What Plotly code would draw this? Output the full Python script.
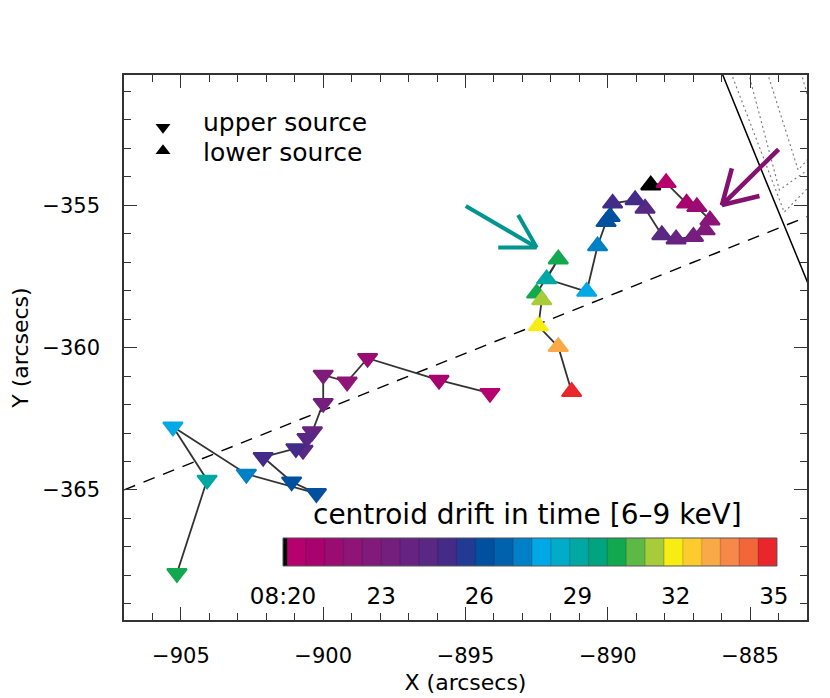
"""Centroid drift of the upper and lower sources, coloured by time."""
import plotly.graph_objects as go

# upper source (down triangles), time in minutes after 08:20
UPPER_X = [-894.14, -895.93, -898.44, -899.16, -900.00, -900.00, -900.38, -900.57,
           -900.71, -900.96, -902.11, -901.11, -900.24, -902.70, -905.28, -904.08, -905.14]
UPPER_Y = [-361.60, -361.14, -360.37, -361.20, -360.96, -361.95, -362.95, -363.18,
           -363.60, -363.54, -363.85, -364.71, -365.12, -364.44, -362.78, -364.65, -367.93]
UPPER_T = [0.4, 1.0, 1.5, 2.0, 2.6, 3.2, 3.7, 4.2, 4.5, 5.0, 5.3, 5.9, 6.3, 7.4, 7.9, 9.0, 10.1]

# lower source (up triangles)
LOWER_X = [-888.49, -887.95, -887.23, -886.87, -886.41, -886.58, -886.99, -887.60,
           -888.10, -888.69, -889.04, -889.83, -889.92, -890.06, -890.36, -890.74,
           -892.15, -891.74, -892.50, -892.32, -892.44, -891.74, -891.27]
LOWER_Y = [-354.29, -354.21, -354.93, -355.05, -355.52, -355.87, -356.10, -356.19,
           -356.04, -355.11, -354.81, -354.93, -355.40, -355.58, -356.43, -358.03,
           -357.59, -356.89, -358.09, -358.33, -359.24, -359.97, -361.55]
LOWER_T = [0.05, 0.4, 1.0, 1.5, 2.0, 2.6, 3.2, 3.7, 4.2, 4.5, 5.0, 5.3, 5.9, 6.3,
           7.4, 7.9, 9.0, 10.1, 10.4, 11.3, 11.9, 13.3, 14.8]

# dashed guide line
DASH_X = [-907.0, -883.0]
DASH_Y = [-365.0, -355.4]

# limb (solid) and contours (dotted) in the upper right corner
LIMB_X = [-886.1, -885.96, -884.65, -883.01, -882.9]
LIMB_Y = [-350.1, -350.42, -353.64, -357.62, -357.9]
CONTOURS = [
    ([-885.8, -883.80, -882.9], [-350.0, -355.24, -354.32]),
    ([-885.15, -883.97, -882.9], [-350.0, -354.46, -353.70]),
    ([-884.5, -883.31, -882.9], [-350.0, -353.76, -353.30]),
    ([-883.3, -882.9], [-350.0, -351.45]),
]

# arrows: tail, tip, barb / barb, tip
TEAL_ARROW_X = [-894.99, -892.50, -893.15, None, -893.85, -892.50]
TEAL_ARROW_Y = [-355.02, -356.48, -355.34, None, -356.48, -356.48]
PURPLE_ARROW_X = [-884.00, -885.99, -885.64, None, -884.67, -885.99]
PURPLE_ARROW_Y = [-353.03, -354.99, -353.70, None, -354.67, -354.99]

# legend
LEGEND_MARK_Y = [-352.26, -353.08]
LEGEND_TEXT_Y = [-352.08, -353.13]
LEGEND_TEXT = ["upper source", "lower source"]

# colour bar: a short black block then 26 coloured blocks
BAR_COLORS = ["#000000",
              "#b5006e", "#a8026f", "#9b0c73", "#8e1577", "#801b7b", "#741f7e",
              "#672381", "#592784", "#442b88", "#233a94", "#0050a0", "#0062ad",
              "#0080c6", "#00a9e6", "#00acc8", "#00a8a4", "#00a580", "#12a84f",
              "#5db946", "#a6cd39", "#f7ec13", "#fecb2f", "#f9a946", "#f6884a",
              "#f2673a", "#e8262b"]
BLACK_END = 0.12
BLOCK_WIDTH = 0.576
CBAR_TICKS = [0, 3, 6, 9, 12, 15]
CBAR_LABELS = ["08:20", "23", "26", "29", "32", "35"]

FONT = "DejaVu Sans"

edges = [0.0] + [BLACK_END + BLOCK_WIDTH * k for k in range(len(BAR_COLORS))]
tmax = edges[-1]
colorscale = []
for i, c in enumerate(BAR_COLORS):
    colorscale.append([edges[i] / tmax, c])
    colorscale.append([edges[i + 1] / tmax, c])
colorscale[-1][0] = 1.0
centers = [(edges[i] + edges[i + 1]) / 2 for i in range(len(BAR_COLORS))]


def tri(x, y, t, symbol):
    return go.Scatter(
        x=x, y=y, mode="lines+markers",
        line=dict(color="#333333", width=1.8),
        marker=dict(symbol=symbol, size=17, color=t, colorscale=colorscale,
                    cmin=0, cmax=tmax,
                    line=dict(width=2, color=t, colorscale=colorscale,
                              cmin=0, cmax=tmax)),
        hoverinfo="skip", showlegend=False,
    )


fig = go.Figure()
fig.add_trace(go.Scatter(x=DASH_X, y=DASH_Y, mode="lines",
                         line=dict(color="black", width=1.4, dash="12px,9px")))
fig.add_trace(go.Scatter(x=LIMB_X, y=LIMB_Y, mode="lines",
                         line=dict(color="black", width=1.5)))
for cx, cy in CONTOURS:
    fig.add_trace(go.Scatter(x=cx, y=cy, mode="lines",
                             line=dict(color="#777777", width=1.1, dash="2px,3px")))
fig.add_trace(go.Scatter(x=TEAL_ARROW_X, y=TEAL_ARROW_Y, mode="lines",
                         line=dict(color="#00968f", width=4)))
fig.add_trace(go.Scatter(x=PURPLE_ARROW_X, y=PURPLE_ARROW_Y, mode="lines",
                         line=dict(color="#84106f", width=4.5)))
fig.add_trace(tri(UPPER_X, UPPER_Y, UPPER_T, "triangle-down"))
fig.add_trace(tri(LOWER_X, LOWER_Y, LOWER_T, "triangle-up"))

# legend symbols and text
fig.add_trace(go.Scatter(x=[-905.63, -905.63], y=LEGEND_MARK_Y, mode="markers",
                         marker=dict(symbol=["triangle-down", "triangle-up"],
                                     size=13, color="black")))
for y, txt in zip(LEGEND_TEXT_Y, LEGEND_TEXT):
    fig.add_annotation(x=-904.28, y=y, text=txt, showarrow=False, xanchor="left",
                       yanchor="middle",
                       font=dict(family=FONT, size=25, color="black"))

# colour bar
fig.add_trace(go.Heatmap(z=[centers], x=edges, y=[0, 1], xaxis="x2", yaxis="y2",
                         colorscale=colorscale, zmin=0, zmax=tmax,
                         showscale=False, hoverinfo="skip"))
sep_x, sep_y = [], []
for e in edges[1:-1]:
    sep_x += [e, e, None]
    sep_y += [0, 1, None]
fig.add_trace(go.Scatter(x=sep_x, y=sep_y, mode="lines", xaxis="x2", yaxis="y2",
                         line=dict(color="rgba(30,0,30,0.15)", width=1.5),
                         hoverinfo="skip"))
fig.add_shape(type="rect", xref="x2 domain", yref="y2 domain", x0=0, x1=1, y0=0, y1=1,
              line=dict(color="#555555", width=1))
fig.add_annotation(x=0.5915, y=0.1927, xref="paper", yref="paper",
                   xanchor="center", yanchor="middle",
                   text="centroid drift in time [6\u20139 keV]", showarrow=False,
                   font=dict(family=FONT, size=28, color="black"))

axis_common = dict(
    ticks="inside", ticklen=13, tickwidth=1.2, tickcolor="#333333",
    showline=True, linecolor="#333333", linewidth=1.5, mirror="allticks",
    showgrid=False, zeroline=False, dtick=5, automargin=False,
    minor=dict(ticks="inside", ticklen=7, dtick=1, tickcolor="#333333", tickwidth=1.2),
    tickfont=dict(family=FONT, size=21, color="black"),
)

# the page body adds an 8 px offset, margins compensate for it
fig.update_layout(
    width=830, height=698,
    margin=dict(l=116, r=31, t=67, b=86),
    paper_bgcolor="white", plot_bgcolor="rgba(0,0,0,0)",
    showlegend=False,
    xaxis=dict(range=[-907.0, -883.0], tick0=-905, ticklabelstandoff=16,
               title=dict(text="X (arcsecs)", standoff=8,
                          font=dict(family=FONT, size=22, color="black")),
               **axis_common),
    yaxis=dict(range=[-369.57, -350.42], tick0=-355, ticklabelstandoff=18,
               title=dict(text="Y (arcsecs)", standoff=10,
                          font=dict(family=FONT, size=22, color="black")),
               **axis_common),
    xaxis2=dict(domain=[0.2328, 0.956], anchor="y2", range=[0, tmax],
                tickvals=CBAR_TICKS, ticktext=CBAR_LABELS, ticks="",
                showline=False, showgrid=False, zeroline=False, automargin=False,
                ticklabelstandoff=14,
                tickfont=dict(family=FONT, size=23, color="black")),
    yaxis2=dict(domain=[0.0991, 0.1505], anchor="x2", range=[0, 1], visible=False),
)

fig.write_html("out.html")
